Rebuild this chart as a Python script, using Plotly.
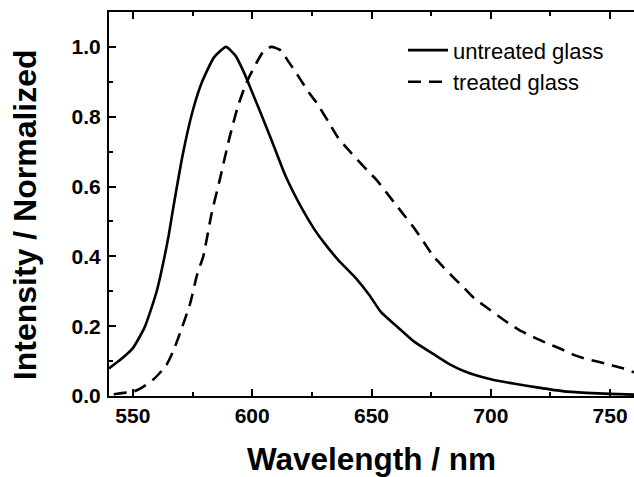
import plotly.graph_objects as go

# Data
untreated_x = [540, 545, 550, 555, 560, 563, 565, 567, 571, 575, 579, 584, 589, 593, 597, 600, 603, 608, 614,
               621, 626, 630, 636, 643.5, 649, 654, 660, 668, 676, 683, 690, 700, 710, 720, 730, 740, 750, 760]
untreated_y = [0.079, 0.105, 0.137, 0.198, 0.30, 0.39, 0.46, 0.542, 0.695, 0.815, 0.90, 0.97, 1.0, 0.975, 0.92,
               0.87, 0.82, 0.735, 0.63, 0.535, 0.478, 0.44, 0.39, 0.337, 0.29, 0.24, 0.203, 0.155, 0.12, 0.09, 0.068,
               0.048, 0.035, 0.024, 0.014, 0.009, 0.006, 0.004]

treated_x = [542, 546, 550, 554, 559, 564, 567, 570, 574, 577, 579.5, 583, 586.4, 590.6, 594, 597.5, 601.7, 604.5,
             608, 612, 615, 618.5, 624, 627, 632, 636, 641, 648, 652, 656, 660, 664, 668, 672, 676, 680, 685, 689, 693,
             698, 703, 708, 713, 719, 724, 729, 734, 739, 745, 750, 755, 760]
treated_y = [0.005, 0.009, 0.012, 0.025, 0.05, 0.088, 0.13, 0.185, 0.265, 0.35, 0.40, 0.523, 0.619, 0.743, 0.829,
             0.896, 0.953, 0.985, 1.0, 0.99, 0.96, 0.925, 0.867, 0.84, 0.785, 0.74, 0.70, 0.648, 0.62, 0.585, 0.55,
             0.515, 0.48, 0.44, 0.40, 0.37, 0.335, 0.308, 0.28, 0.255, 0.23, 0.206, 0.185, 0.165, 0.15, 0.136, 0.12,
             0.108, 0.098, 0.089, 0.08, 0.068]

x_ticks = [550, 600, 650, 700, 750]
y_ticks = [0.0, 0.2, 0.4, 0.6, 0.8, 1.0]
y_tick_labels = ["0.0", "0.2", "0.4", "0.6", "0.8", "1.0"]
y_title = "Intensity / Normalized"
x_title = "Wavelength / nm"

FONT = "Arial, Liberation Sans, sans-serif"

fig = go.Figure()
fig.add_trace(go.Scatter(x=untreated_x, y=untreated_y, mode="lines", name="untreated glass",
                         line=dict(color="black", width=2.6, shape="spline", smoothing=0.5)))
fig.add_trace(go.Scatter(x=treated_x, y=treated_y, mode="lines", name="treated glass",
                         line=dict(color="black", width=2.6, dash="13px,8px", shape="spline", smoothing=0.6)))

fig.update_layout(
    width=634, height=477,
    margin=dict(l=109, r=0, t=12, b=81),
    paper_bgcolor="white", plot_bgcolor="white",
    font=dict(family=FONT, color="black"),
    showlegend=True,
    legend=dict(x=0.56, y=0.955, xanchor="left", yanchor="top",
                bgcolor="rgba(0,0,0,0)", font=dict(size=22, family=FONT),
                tracegroupgap=0, itemwidth=40),
    xaxis=dict(range=[540, 760], tickvals=x_ticks, ticks="inside", ticklen=7, tickwidth=1.5,
               tickcolor="black", showline=True, linecolor="black", linewidth=2, mirror="ticks",
               showgrid=False, zeroline=False,
               minor=dict(dtick=25, tick0=0, ticks="inside", ticklen=4, tickwidth=1.5, tickcolor="black"),
               tickfont=dict(size=21, family=FONT, weight="bold"), ticklabelstandoff=0,
               title=dict(text=x_title, font=dict(size=31.5, family=FONT, weight="bold"), standoff=26)),
    yaxis=dict(range=[0, 1.1], tickvals=y_ticks, ticktext=y_tick_labels, ticks="inside", ticklen=7,
               tickwidth=1.5, tickcolor="black", showline=True, linecolor="black", linewidth=2, mirror=False,
               showgrid=False, zeroline=False,
               minor=dict(dtick=0.1, tick0=0, ticks="inside", ticklen=4, tickwidth=1.5, tickcolor="black"),
               tickfont=dict(size=21, family=FONT, weight="bold"), ticklabelstandoff=2),
    annotations=[dict(text=y_title, textangle=-90, xref="paper", yref="paper", x=0, y=0.471,
                      xanchor="center", yanchor="middle", xshift=-84, showarrow=False,
                      font=dict(size=32, family=FONT, weight="bold"))],
)

fig.write_html("out.html", config={"displayModeBar": False},
               post_script="document.body.style.margin='0px';")
